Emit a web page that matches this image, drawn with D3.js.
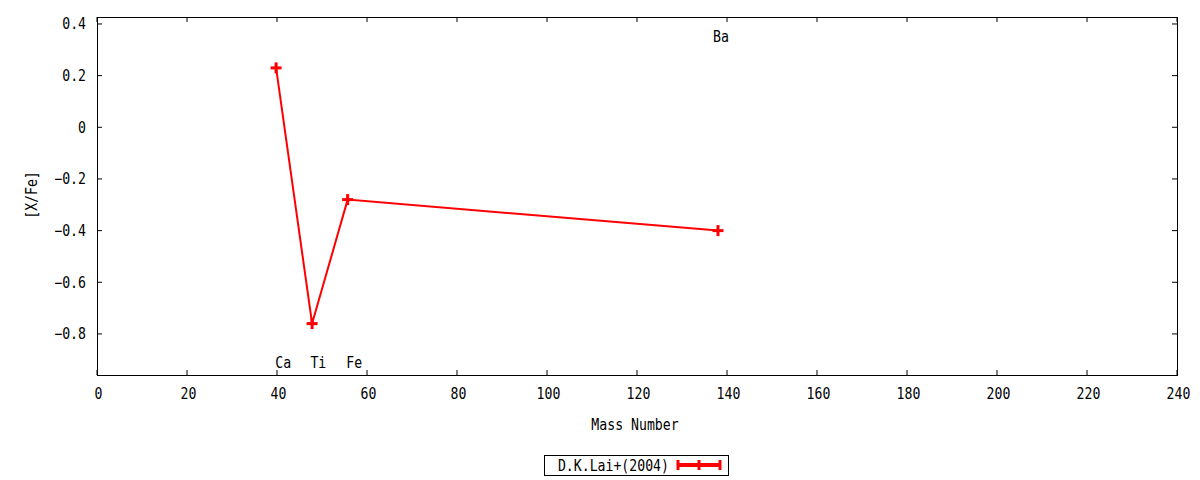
<!DOCTYPE html>
<html><head><meta charset="utf-8">
<script src="https://cdn.jsdelivr.net/npm/d3@7"></script>
<style>
body{margin:0;background:#fff;}
text{font-family:"DejaVu Sans Mono",monospace;font-size:15px;fill:#000;}
</style></head>
<body><svg id="c" width="1200" height="480"></svg>
<script>
const massNumbers = [39.8, 47.8, 55.7, 138.0];
const xfeValues = [0.23, -0.76, -0.28, -0.40];
const elementNames = ["Ca", "Ti", "Fe", "Ba"];
const labelMass = [40.08, 47.87, 55.85, 137.33];
const labelY = [-0.912, -0.912, -0.912, 0.35];
const xTicks = [0,20,40,60,80,100,120,140,160,180,200,220,240];
const yTicks = [-0.8,-0.6,-0.4,-0.2,0,0.2,0.4];
const seriesName = "D.K.Lai+(2004)";

const svg = d3.select("#c");
const L=97,R=1177,T=17,B=375;
const x = d3.scaleLinear().domain([0,240]).range([L,R]);
const y = d3.scaleLinear().domain([-0.959,0.427]).range([B,T]);
const fmt = d => d===0 ? "0" : d3.format("")(+d.toFixed(1));
const SX = 0.88;

const g = svg.append("g");
function txt(px,py,s,anchor,rot){
  return g.append("text")
    .attr("transform",`translate(${px},${py})`+(rot?` rotate(${rot})`:"")+` scale(${SX},1)`)
    .attr("text-anchor",anchor||"start").text(s);
}
const tl=5;
xTicks.forEach(t=>{
  g.append("line").attr("x1",x(t)).attr("x2",x(t)).attr("y1",B).attr("y2",B-tl).attr("stroke","#000");
  g.append("line").attr("x1",x(t)).attr("x2",x(t)).attr("y1",T).attr("y2",T+tl).attr("stroke","#000");
  txt(x(t)+1.5,399,t,"middle");
});
yTicks.forEach(t=>{
  g.append("line").attr("x1",L).attr("x2",L+tl).attr("y1",y(t)).attr("y2",y(t)).attr("stroke","#000");
  g.append("line").attr("x1",R).attr("x2",R-tl).attr("y1",y(t)).attr("y2",y(t)).attr("stroke","#000");
  txt(86,y(t)+5.5,fmt(t),"end");
});
g.append("rect").attr("x",L+0.5).attr("y",T+0.5).attr("width",R-L).attr("height",B-T)
  .attr("fill","none").attr("stroke","#000");

txt(635,430,"Mass Number","middle");
g.append("text").attr("transform","translate(37,195) rotate(-90) scale(0.88,1)").attr("text-anchor","middle").text("[X/Fe]");

elementNames.forEach((n,i)=>{
  txt(x(labelMass[i])-2,y(labelY[i])+5.5,n,"start");
});

const data = massNumbers.map((m,i)=>[m,xfeValues[i]]);
g.append("path").datum(data).attr("fill","none").attr("stroke","#f00").attr("stroke-width",2)
  .attr("d",d3.line().x(d=>x(d[0])).y(d=>y(d[1])));
const plus = (px,py,s)=>{
  g.append("line").attr("x1",px-s).attr("x2",px+s).attr("y1",py).attr("y2",py).attr("stroke","#f00").attr("stroke-width",3);
  g.append("line").attr("x1",px).attr("x2",px).attr("y1",py-s).attr("y2",py+s).attr("stroke","#f00").attr("stroke-width",3);
};
data.forEach(d=>plus(x(d[0]),y(d[1]),5.5));

g.append("rect").attr("x",544.5).attr("y",455.5).attr("width",184).attr("height",20).attr("fill","none").attr("stroke","#000");
txt(669,470.5,seriesName,"end");
g.append("line").attr("x1",678).attr("x2",720).attr("y1",465).attr("y2",465).attr("stroke","#f00").attr("stroke-width",4);
[678,699,720].forEach(px=>{
  g.append("line").attr("x1",px).attr("x2",px).attr("y1",460).attr("y2",470).attr("stroke","#f00").attr("stroke-width",3);
});
</script></body></html>
